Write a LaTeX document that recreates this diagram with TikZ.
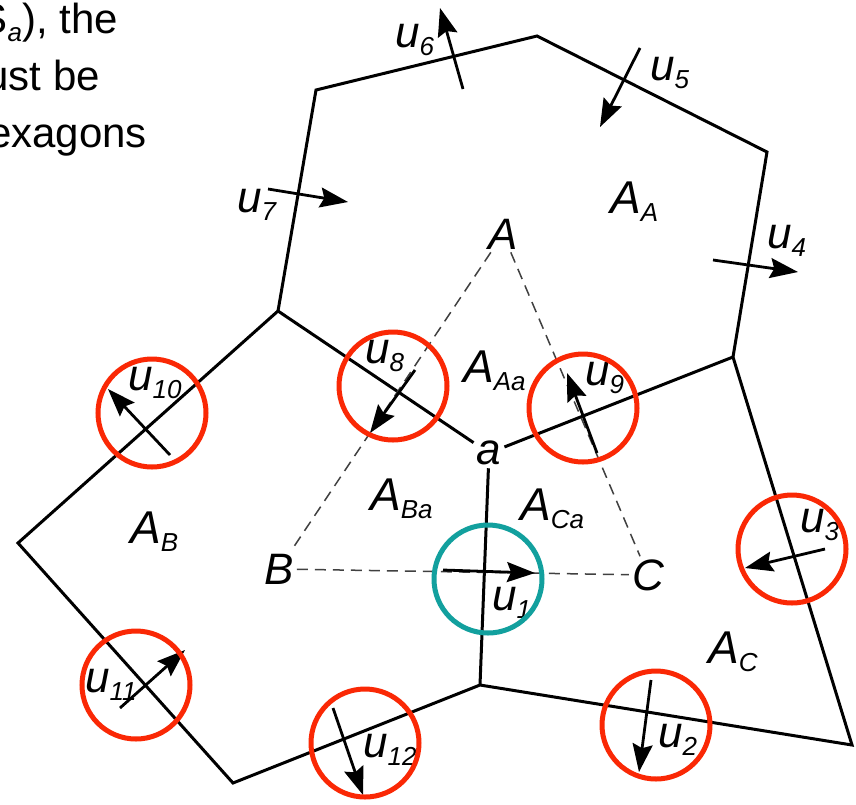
\documentclass[tikz,border=0pt]{standalone}
\usepackage{fontspec}
\setmainfont{Liberation Sans}
\usetikzlibrary{arrows.meta}
\definecolor{ringred}{RGB}{250,40,5}
\definecolor{ringteal}{RGB}{18,160,158}
\newcommand\lbl[3]{{\fontsize{#1}{#1}\selectfont\itshape #2}\raisebox{-8pt}{\fontsize{26}{26}\selectfont\itshape #3}}
\begin{document}
\begin{tikzpicture}[x=1pt,y=-1pt,
  edge/.style={line width=3pt},
  tri/.style={line width=1.5pt, dash pattern=on 11pt off 7pt, draw=black!75},
  flow/.style={line width=2.8pt, -{Stealth[length=28pt,width=20pt,inset=4pt]}},
  ring/.style={line width=5pt, draw=ringred},
  lab/.style={anchor=base west, inner sep=0pt},
  pt/.style={inner sep=3pt, font=\fontsize{44}{44}\selectfont\itshape},
  body/.style={anchor=base east, inner sep=0pt, font=\fontsize{42}{42}\selectfont}]
\clip (0,0) rectangle (856,804);
\fill[white] (0,0) rectangle (856,804);
% paragraph fragment
\node[body] (t1) at (118,33) {S\raisebox{-8pt}{\fontsize{26}{26}\selectfont\itshape a}), the};
\node[body] (t2) at (100,90) {ust be};
\node[body] (t3) at (147,147) {exagons};
% vertices
\coordinate (P1) at (316,90);
\coordinate (P2) at (537,36);
\coordinate (P3) at (767,152);
\coordinate (P4) at (733,357);
\coordinate (P5) at (278,311);
\coordinate (P6) at (18,543);
\coordinate (P7) at (233,783);
\coordinate (P8) at (480,685);
\coordinate (P9) at (852,745);
\node[pt] (a) at (489,453) {a};
% cell boundaries
\draw[edge] (P5) -- (P1) -- (P2) -- (P3) -- (P4);
\draw[edge] (P5) -- (P6) -- (P7) -- (P8) -- (P9) -- (P4);
\draw[edge] (P4) -- (a);
\draw[edge] (P5) -- (a);
\draw[edge] (a) -- (P8);
% triangle
\node[pt] (A) at (503,234) {A};
\node[pt] (B) at (279,569) {B};
\node[pt] (C) at (648,575) {C};
\draw[tri] (A) -- (B);
\draw[tri] (A) -- (C);
\draw[tri] (B) -- (C);
% region labels
\node[lab] (lAA) at (610,213) {\lbl{46}{A}{A}};
\node[lab] (lAAa) at (463,382) {\lbl{46}{A}{Aa}};
\node[lab] (lABa) at (370,510) {\lbl{46}{A}{Ba}};
\node[lab] (lACa) at (520,520) {\lbl{46}{A}{Ca}};
\node[lab] (lAB) at (130,543) {\lbl{46}{A}{B}};
\node[lab] (lAC) at (708,663) {\lbl{46}{A}{C}};
% flux labels
\node[lab] (l1) at (492,610) {\lbl{44}{u}{1}};
\node[lab] (l2) at (658,747) {\lbl{44}{u}{2}};
\node[lab] (l3) at (800,532) {\lbl{44}{u}{3}};
\node[lab] (l4) at (767,248) {\lbl{44}{u}{4}};
\node[lab] (l5) at (650,80) {\lbl{44}{u}{5}};
\node[lab] (l6) at (395,47) {\lbl{44}{u}{6}};
\node[lab] (l7) at (237,212) {\lbl{44}{u}{7}};
\node[lab] (l8) at (365,363) {\lbl{44}{u}{8}};
\node[lab] (l9) at (585,385) {\lbl{44}{u}{9}};
\node[lab] (l10) at (128,390) {\lbl{44}{u}{10}};
\node[lab] (l11) at (85,692) {\lbl{44}{u}{11}};
\node[lab] (l12) at (363,757) {\lbl{44}{u}{12}};
% flux arrows
\coordinate (u1s) at (443,570); \coordinate (u1e) at (535,573);
\coordinate (u2s) at (651,680); \coordinate (u2e) at (639,772);
\coordinate (u3s) at (825,549); \coordinate (u3e) at (745,568);
\coordinate (u4s) at (713,260); \coordinate (u4e) at (798,272);
\coordinate (u5s) at (640,48);  \coordinate (u5e) at (600,127);
\coordinate (u6s) at (463,89);  \coordinate (u6e) at (440,8);
\coordinate (u7s) at (268,189); \coordinate (u7e) at (348,202);
\coordinate (u8s) at (415,370); \coordinate (u8e) at (370,433);
\coordinate (u9s) at (597,453); \coordinate (u9e) at (567,373);
\coordinate (u10s) at (170,455); \coordinate (u10e) at (108,389);
\coordinate (u11s) at (120,708); \coordinate (u11e) at (185,650);
\coordinate (u12s) at (333,708); \coordinate (u12e) at (363,795);
\foreach \k in {1,...,12} {\draw[flow] (u\k s) -- (u\k e);}
% highlight rings
\draw[line width=5pt, draw=ringteal] (488,579) circle[radius=54pt];
\draw[ring] (393,386) circle[radius=54pt];
\draw[ring] (152,413) circle[radius=54pt];
\draw[ring] (583,408) circle[radius=54pt];
\draw[ring] (792,549) circle[radius=54pt];
\draw[ring] (136,685) circle[radius=54pt];
\draw[ring] (365,743) circle[radius=54pt];
\draw[ring] (656,725) circle[radius=54pt];
\end{tikzpicture}
\end{document}
